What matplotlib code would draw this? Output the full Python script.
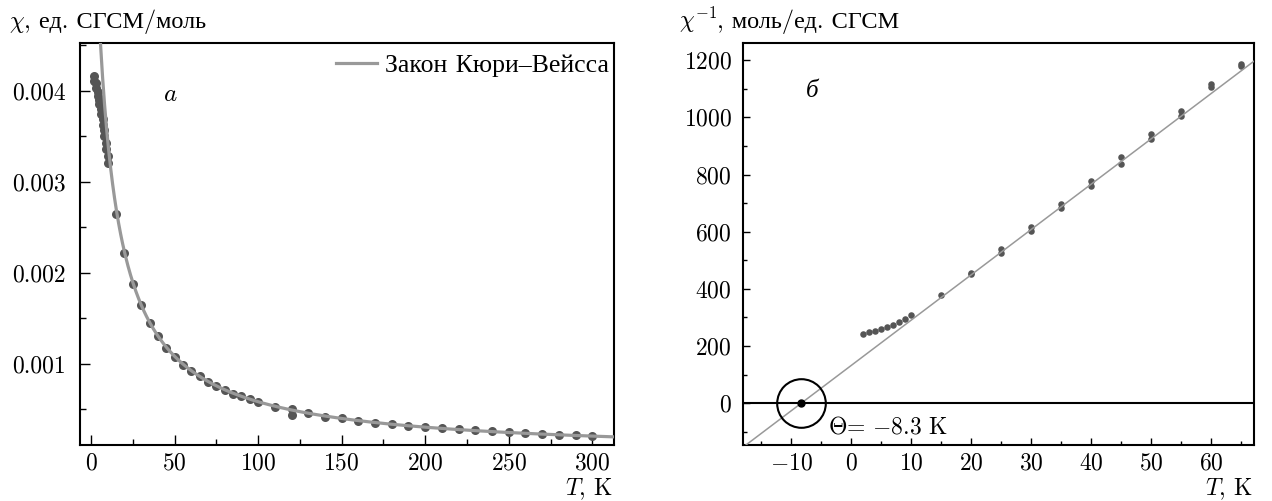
import numpy as np
import matplotlib
matplotlib.use("Agg")
import matplotlib.pyplot as plt
from matplotlib.ticker import MultipleLocator, FormatStrFormatter

plt.rcParams['font.family'] = ['cmr10', 'Liberation Serif']
plt.rcParams['mathtext.fontset'] = 'cm'
plt.rcParams['axes.formatter.use_mathtext'] = True
plt.rcParams['axes.unicode_minus'] = True

# панель а: chi(T)
T_a = [2, 3, 4, 5, 6, 7, 8, 9, 10,
       2, 3, 4, 5, 6, 7, 8, 9, 10,
       15, 20, 25, 30, 35, 40, 45, 50, 55, 60, 65, 70, 75, 80, 85, 90, 95, 100,
       110, 120, 120, 130, 140, 150, 160, 170, 180, 190, 200,
       210, 220, 230, 240, 250, 260, 270, 280, 290, 300]
chi_a = [0.00416, 0.00408, 0.00399, 0.00390, 0.00380, 0.00369, 0.00357, 0.00343, 0.00328,
         0.00411, 0.00403, 0.00394, 0.00385, 0.00374, 0.00362, 0.00350, 0.00336, 0.00320,
         0.00264, 0.00222, 0.00188, 0.00165, 0.00145, 0.00130, 0.00117, 0.00107, 0.00099,
         0.00092, 0.00086, 0.00080, 0.00076, 0.00071, 0.00067, 0.00064, 0.00061, 0.00058,
         0.00053, 0.00050, 0.00044, 0.00046, 0.00042, 0.00040, 0.00037, 0.00035, 0.00034,
         0.00032, 0.00030, 0.00029, 0.00028, 0.00027, 0.00026, 0.00025, 0.00024, 0.00023,
         0.00022, 0.00022, 0.00021]

# панель б: 1/chi(T)
T_b = [2, 3, 4, 5, 6, 7, 8, 9, 10, 15, 20, 20, 25, 25, 30, 30, 35, 35,
       40, 40, 45, 45, 50, 50, 55, 55, 60, 60, 65, 65]
inv_b = [242, 248, 254, 260, 267, 274, 283, 293, 307, 380, 451, 456, 538, 524,
         615, 602, 697, 682, 778, 761, 861, 838, 943, 924, 1023, 1006,
         1118, 1105, 1188, 1178]

# параметры закона Кюри-Вейсса
C = 0.0631
theta = -8.3

pt_color = '#555555'
fit_color = '#999999'

fig = plt.figure(figsize=(12.72, 5.01), dpi=100)
W, H = 1272, 501
ax1 = fig.add_axes([80 / W, 56 / H, 534 / W, 402 / H])
ax2 = fig.add_axes([743 / W, 56 / H, 511 / W, 402 / H])

# --- a ---
Tf = np.linspace(0.5, 320, 800)
ax1.plot(Tf, C / (Tf - theta), color=fit_color, lw=2.3, label='Закон Кюри–Вейсса', zorder=3)
ax1.plot(T_a, chi_a, 'o', color=pt_color, ms=6.5, mew=0, zorder=2)
ax1.set_xlim(-6.6, 313)
ax1.set_ylim(0.000107, 0.004524)
ax1.xaxis.set_major_locator(MultipleLocator(50))
ax1.xaxis.set_minor_locator(MultipleLocator(25))
ax1.set_yticks([0.001, 0.002, 0.003, 0.004])
ax1.yaxis.set_minor_locator(MultipleLocator(0.0005))
ax1.yaxis.set_major_formatter(FormatStrFormatter('%.3f'))
ax1.tick_params(which='both', direction='in', labelsize=17, width=1.0)
ax1.tick_params(which='major', length=7)
ax1.tick_params(which='minor', length=4.5)
ax1.tick_params(axis='y', pad=10)
ax1.tick_params(axis='x', pad=5)
ax1.legend(loc='upper right', bbox_to_anchor=(0.99, 0.975), frameon=False, fontsize=18.5,
           handlelength=1.6, handletextpad=0.3, borderaxespad=0, borderpad=0)
ax1.text(0.17, 0.87, r'$a$', transform=ax1.transAxes, fontsize=18, ha='center', va='center')

# --- б ---
Tl = np.linspace(-20, 70, 10)
ax2.plot(Tl, (Tl - theta) / C, color=fit_color, lw=1.1, zorder=3)
ax2.plot(T_b, inv_b, 'o', color=pt_color, ms=4.7, mew=0, zorder=2)
ax2.axhline(0, color='black', lw=1.5, zorder=1)
ax2.plot([theta], [0], 'o', ms=35, mfc='none', mec='black', mew=1.5, zorder=4)
ax2.plot([theta], [0], 'o', ms=5, color='black', zorder=5)
ax2.text(-3.8, -83, r'$\Theta$= $-$8.3 K', fontsize=17, ha='left', va='center')
ax2.set_xlim(-18, 67.2)
ax2.set_ylim(-146, 1260)
ax2.xaxis.set_major_locator(MultipleLocator(10))
ax2.xaxis.set_minor_locator(MultipleLocator(5))
ax2.yaxis.set_major_locator(MultipleLocator(200))
ax2.yaxis.set_minor_locator(MultipleLocator(100))
ax2.tick_params(which='both', direction='in', labelsize=17, width=1.0)
ax2.tick_params(which='major', length=5)
ax2.tick_params(which='minor', length=3)
ax2.tick_params(axis='y', pad=8)
ax2.tick_params(axis='x', pad=5)
ax2.text(0.135, 0.88, 'б', transform=ax2.transAxes, fontsize=18, ha='center', va='center',
         family='Liberation Serif', style='italic')

for ax in (ax1, ax2):
    for s in ax.spines.values():
        s.set_linewidth(1.5)

# подписи осей: символ и текст отдельно (mathtext не знает кириллицы)
base = 1 - 28 / H
fig.text(9 / W, base, r'$\chi$', fontsize=17, ha='left', va='baseline')
fig.text(24 / W, base, ', ед. СГСМ/моль', fontsize=17.5, ha='left', va='baseline')
fig.text(679 / W, base, r'$\chi^{-1}$', fontsize=17, ha='left', va='baseline')
fig.text(717 / W, base, ', моль/ед. СГСМ', fontsize=17.5, ha='left', va='baseline')
fig.text(613 / W, 1 - 489 / H, r'$T$, K', fontsize=17, ha='right', va='center')
fig.text(1253 / W, 1 - 489 / H, r'$T$, K', fontsize=17, ha='right', va='center')

fig.savefig('out.png', dpi=100)
